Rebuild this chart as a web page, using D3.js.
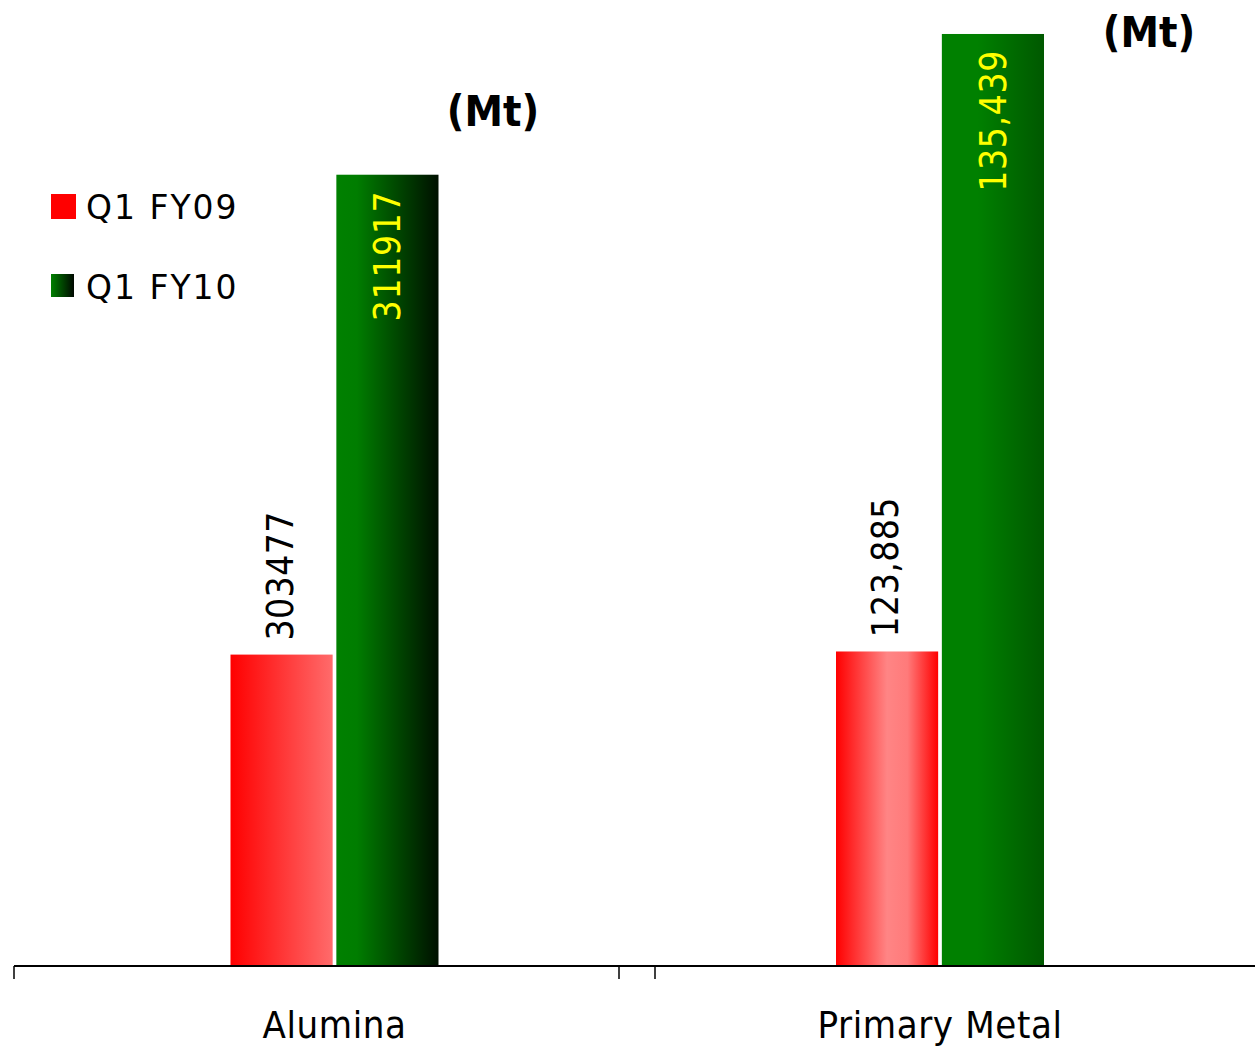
<!DOCTYPE html>
<html><head><meta charset="utf-8">
<script src="https://cdn.jsdelivr.net/npm/d3@7"></script>
<style>body{margin:0;background:#fff}</style>
</head><body>
<script>
const categories = ["Alumina", "Primary Metal"];
const seriesNames = ["Q1 FY09", "Q1 FY10"];
const fy09 = [303477, 123885];
const fy10 = [311917, 135439];
const labelsFY09 = ["303477", "123,885"];
const labelsFY10 = ["311917", "135,439"];
const unitLabel = "(Mt)";
const domains = [[298000, 312000], [118000, 136000]];

const W = 1255, H = 1048, baseY = 966;
const svg = d3.select("body").append("svg").attr("width", W).attr("height", H);
const defs = svg.append("defs");
function grad(id, stops) {
  const g = defs.append("linearGradient").attr("id", id).attr("x1", "0%").attr("x2", "100%").attr("y1", "0%").attr("y2", "0%");
  stops.forEach(s => g.append("stop").attr("offset", s[0]).attr("stop-color", s[1]));
}
grad("r0", [["0%", "#ff0000"], ["100%", "#ff6b6b"]]);
grad("g0", [["0%", "#008000"], ["20%", "#007d00"], ["100%", "#001000"]]);
grad("r1", [["0%", "#ff0000"], ["50%", "#ff8585"], ["70%", "#ff7a7a"], ["100%", "#ff0000"]]);
grad("g1", [["0%", "#008000"], ["35%", "#008000"], ["100%", "#005800"]]);
grad("lg", [["0%", "#008000"], ["100%", "#000800"]]);

const panels = [
  {center: 334.5, unitX: 493, unitY: 126},
  {center: 940, unitX: 1149, unitY: 47}
];
const yRanges = [[baseY, 170], [baseY, 4]];

panels.forEach((p, i) => {
  const y = d3.scaleLinear().domain(domains[i]).range(yRanges[i]);
  const x = d3.scaleBand().domain(seriesNames).range([p.center - 104, p.center + 104]).paddingInner(0.035);
  const vals = [fy09[i], fy10[i]];
  const fills = ["url(#r" + i + ")", "url(#g" + i + ")"];
  const g = svg.append("g");
  g.selectAll("rect").data(seriesNames).join("rect")
    .attr("x", d => x(d)).attr("width", x.bandwidth())
    .attr("y", (d, j) => y(vals[j])).attr("height", (d, j) => baseY - y(vals[j]))
    .attr("fill", (d, j) => fills[j]);
  const cx0 = x(seriesNames[0]) + x.bandwidth() / 2 - 2;
  const cx1 = x(seriesNames[1]) + x.bandwidth() / 2;
  g.append("text").attr("transform", `translate(${cx0 + 13},${y(vals[0]) - 14}) rotate(-90)`)
    .attr("text-anchor", "start").attr("font-family", "DejaVu Sans Condensed").attr("font-size", 37)
    .attr("letter-spacing", 0.4).attr("fill", "#000").text(labelsFY09[i]);
  g.append("text").attr("transform", `translate(${cx1 + 13},${y(vals[1]) + 16}) rotate(-90)`)
    .attr("text-anchor", "end").attr("font-family", "DejaVu Sans Condensed").attr("font-size", 37)
    .attr("letter-spacing", 0.6).attr("fill", "#ffff00").text(labelsFY10[i]);
  svg.append("text").attr("x", p.unitX).attr("y", p.unitY).attr("text-anchor", "middle")
    .attr("font-family", "DejaVu Sans Condensed").attr("font-weight", "bold").attr("font-size", 43)
    .attr("fill", "#000").text(unitLabel);
  svg.append("text").attr("x", p.center).attr("y", 1038).attr("text-anchor", "middle")
    .attr("font-family", "DejaVu Sans Condensed").attr("font-size", 38).attr("letter-spacing", 0.6)
    .attr("fill", "#000").text(categories[i]);
});

svg.append("line").attr("x1", 14).attr("x2", W).attr("y1", baseY).attr("y2", baseY)
  .attr("stroke", "#000").attr("stroke-width", 2);
[14, 619, 655].forEach(t => svg.append("line").attr("x1", t).attr("x2", t)
  .attr("y1", baseY).attr("y2", baseY + 13).attr("stroke", "#000").attr("stroke-width", 1.5));

const legFills = ["#ff0000", "url(#lg)"];
const leg = svg.append("g");
seriesNames.forEach((s, j) => {
  const yy = 194 + j * 80;
  leg.append("rect").attr("x", 51).attr("y", yy).attr("width", j ? 23 : 25).attr("height", j ? 23 : 25).attr("fill", legFills[j]);
  leg.append("text").attr("x", 86).attr("y", yy + 25).attr("font-family", "DejaVu Sans")
    .attr("font-size", 33).attr("letter-spacing", 2).attr("fill", "#000").text(s);
});
</script>
</body></html>
